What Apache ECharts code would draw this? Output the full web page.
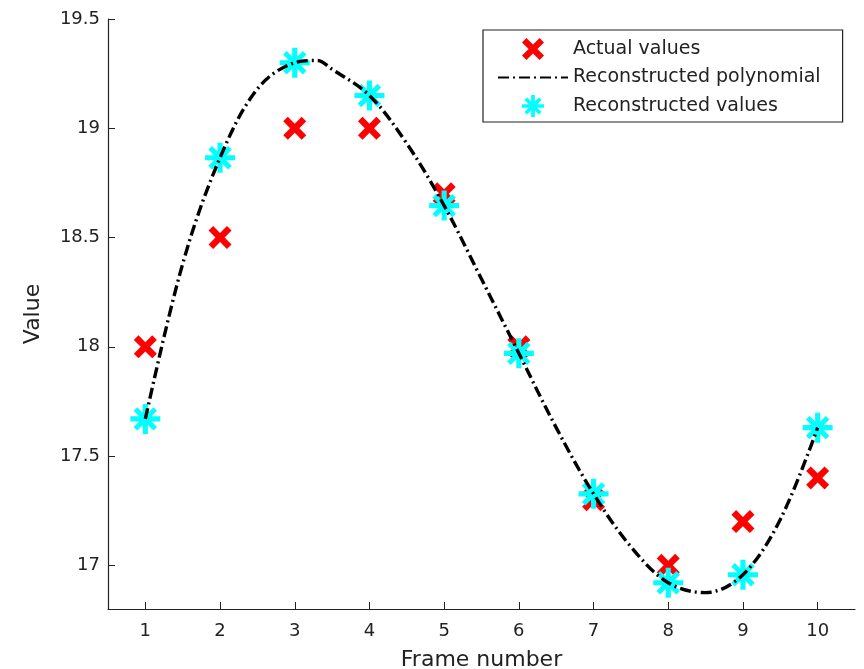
<!DOCTYPE html>
<html>
<head>
<meta charset="utf-8">
<script src="https://cdn.jsdelivr.net/npm/echarts@6/dist/echarts.min.js"></script>
<style>
  html, body { margin: 0; padding: 0; background: #fff; }
  #container { width: 864px; height: 669px; }
</style>
</head>
<body>
<div id="container"></div>
<script>
// frame numbers and values
var frames = [1, 2, 3, 4, 5, 6, 7, 8, 9, 10];
var actualValues = [18.0, 18.5, 19.0, 19.0, 18.7, 18.0, 17.3, 17.0, 17.2, 17.4];
var reconValues = [17.67, 18.865, 19.3, 19.15, 18.646, 17.97, 17.327, 16.92, 16.957, 17.63];
// the dash-dot curve, read every half frame
var curveX = [1, 1.5, 2, 2.5, 3, 3.3, 3.5, 4, 4.5, 5, 5.5, 6, 6.5, 7, 7.5, 8, 8.5, 9, 9.5, 10];
var curveY = [17.67, 18.38, 18.865, 19.18, 19.3, 19.31, 19.27, 19.15, 18.93, 18.646, 18.31, 17.97, 17.63, 17.327, 17.085, 16.92, 16.875, 16.957, 17.21, 17.63];
var xTicks = [1, 2, 3, 4, 5, 6, 7, 8, 9, 10];
var yTicks = [17, 17.5, 18, 18.5, 19, 19.5];

var font = 'DejaVu Sans';
// X marker and asterisk marker
var crossPath = 'path://M0,2 L2,0 L5,3 L8,0 L10,2 L7,5 L10,8 L8,10 L5,7 L2,10 L0,8 L3,5 Z';
var starPath = 'path://M8.3,0 L11.7,0 L11.7,20 L8.3,20 Z ' +
  'M0,8.3 L20,8.3 L20,11.7 L0,11.7 Z ' +
  'M4.6,2.2 L17.8,15.4 L15.4,17.8 L2.2,4.6 Z ' +
  'M17.8,4.6 L4.6,17.8 L2.2,15.4 L15.4,2.2 Z';

function pairs(xs, ys) {
  return xs.map(function (x, i) { return [x, ys[i]]; });
}

var chart = echarts.init(document.getElementById('container'));
var option = {
  backgroundColor: '#ffffff',
  animation: false,
  grid: { left: 108, right: 9, top: 19, bottom: 60, containLabel: false, outerBoundsMode: 'none' },
  legend: {
    orient: 'vertical',
    left: 483,
    top: 30,
    padding: [8, 22, 5, 14],
    borderColor: '#222',
    borderWidth: 1.2,
    itemWidth: 70,
    itemHeight: 22,
    itemGap: 8,
    textStyle: { fontFamily: font, fontSize: 19, color: '#222' },
    data: [
      'Actual values',
      { name: 'Reconstructed polynomial', itemStyle: { opacity: 0 } },
      'Reconstructed values'
    ]
  },
  xAxis: {
    type: 'value',
    min: 0.5,
    max: 10.5,
    name: 'Frame number',
    nameLocation: 'middle',
    nameGap: 40,
    nameTextStyle: { fontFamily: font, fontSize: 22, color: '#222' },
    splitLine: { show: false },
    axisLine: { lineStyle: { color: '#222', width: 1.2 } },
    axisTick: { inside: true, length: 7, customValues: xTicks, lineStyle: { color: '#222' } },
    axisLabel: { customValues: xTicks, margin: 13, fontFamily: font, fontSize: 18, color: '#222' }
  },
  yAxis: {
    type: 'value',
    min: 16.8,
    max: 19.5,
    name: 'Value',
    nameLocation: 'middle',
    nameRotate: 90,
    nameGap: 64,
    nameTextStyle: { fontFamily: font, fontSize: 22, color: '#222' },
    splitLine: { show: false },
    axisLine: { show: true, lineStyle: { color: '#222', width: 1.2 } },
    axisTick: { show: true, inside: true, length: 7, customValues: yTicks, lineStyle: { color: '#222' } },
    axisLabel: { customValues: yTicks, margin: 8, fontFamily: font, fontSize: 18, color: '#222' }
  },
  series: [
    {
      name: 'Actual values',
      type: 'scatter',
      data: pairs(frames, actualValues),
      symbol: crossPath,
      symbolSize: 23,
      symbolKeepAspect: true,
      itemStyle: { color: '#ff0000', opacity: 1 }
    },
    {
      name: 'Reconstructed polynomial',
      type: 'line',
      data: pairs(curveX, curveY),
      smooth: 0.35,
      symbol: 'none',
      lineStyle: { color: '#000', width: 3.4, type: [11, 4, 2, 4] },
      itemStyle: { color: '#000' }
    },
    {
      name: 'Reconstructed values',
      type: 'scatter',
      data: pairs(frames, reconValues),
      symbol: starPath,
      symbolSize: 30,
      symbolKeepAspect: true,
      itemStyle: { color: '#00ffff', opacity: 1 }
    }
  ]
};
chart.setOption(option);
</script>
</body>
</html>
